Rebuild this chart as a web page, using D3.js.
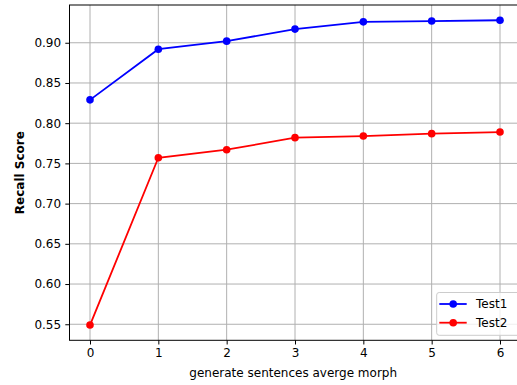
<!DOCTYPE html>
<html>
<head>
<meta charset="utf-8">
<script src="https://cdn.jsdelivr.net/npm/d3@7"></script>
<style>
  body { margin: 0; background: #fff; }
  text { font-family: "DejaVu Sans", sans-serif; fill: #000; }
</style>
</head>
<body>
<div id="chart"></div>
<script>
// chart data
var xValues = [0, 1, 2, 3, 4, 5, 6];
var test1 = [0.829, 0.892, 0.902, 0.917, 0.926, 0.927, 0.928];
var test2 = [0.549, 0.757, 0.767, 0.782, 0.784, 0.787, 0.789];
var seriesNames = ["Test1", "Test2"];
var seriesColors = ["#0000ff", "#ff0000"];
var yTicks = [0.55, 0.60, 0.65, 0.70, 0.75, 0.80, 0.85, 0.90];

var W = 517, H = 385;
var margin = {top: 5, right: -3.5, bottom: 44.7, left: 69.5},
    width = W - margin.left - margin.right,
    height = H - margin.top - margin.bottom;

var svg = d3.select("#chart")
  .append("svg")
    .attr("width", W)
    .attr("height", H)
  .append("g")
    .attr("transform", "translate(" + margin.left + "," + margin.top + ")");

// matplotlib-like 5% padding
var x = d3.scaleLinear().domain([-0.3, 6.3]).range([0, width]);
var all = test1.concat(test2);
var lo = d3.min(all), hi = d3.max(all), pad = (hi - lo) * 0.05;
var y = d3.scaleLinear().domain([lo - pad, hi + pad]).range([height, 0]);

// grid
svg.append("g").selectAll("line.gx")
  .data(xValues).enter().append("line")
    .attr("x1", d => x(d)).attr("x2", d => x(d))
    .attr("y1", 0).attr("y2", height)
    .attr("stroke", "#b0b0b0").attr("stroke-width", 1);
svg.append("g").selectAll("line.gy")
  .data(yTicks).enter().append("line")
    .attr("y1", d => y(d)).attr("y2", d => y(d))
    .attr("x1", 0).attr("x2", width)
    .attr("stroke", "#b0b0b0").attr("stroke-width", 1);

// axes
var xAxis = svg.append("g")
  .attr("transform", "translate(0," + height + ")")
  .call(d3.axisBottom(x).tickValues(xValues).tickFormat(d3.format("d")).tickSize(4.2).tickPadding(4.2));
var yAxis = svg.append("g")
  .call(d3.axisLeft(y).tickValues(yTicks).tickFormat(d3.format(".2f")).tickSize(4.2).tickPadding(4.2));
[xAxis, yAxis].forEach(function(a) {
  a.select(".domain").remove();
  a.selectAll("line").attr("stroke", "#000").attr("stroke-width", 1);
  a.selectAll("text").style("font-size", "12px").style("font-family", "DejaVu Sans");
});

// frame
svg.append("rect")
  .attr("x", 0).attr("y", 0).attr("width", width).attr("height", height)
  .attr("fill", "none").attr("stroke", "#000").attr("stroke-width", 1);

// lines and dots
var line = d3.line().x((d, i) => x(xValues[i])).y(d => y(d));
[test1, test2].forEach(function(s, k) {
  svg.append("path")
    .datum(s)
    .attr("d", line)
    .attr("fill", "none")
    .attr("stroke", seriesColors[k])
    .attr("stroke-width", 1.8);
  svg.selectAll("circle.s" + k)
    .data(s).enter().append("circle")
      .attr("cx", (d, i) => x(xValues[i]))
      .attr("cy", d => y(d))
      .attr("r", 3.8)
      .attr("fill", seriesColors[k]);
});

// labels
svg.append("text")
  .attr("x", width / 2 - 1.8)
  .attr("y", height + 37)
  .attr("text-anchor", "middle")
  .style("font-size", "12px")
  .text("generate sentences averge morph");
svg.append("text")
  .attr("transform", "translate(" + (-45.5) + "," + (height / 2) + ") rotate(-90)")
  .attr("text-anchor", "middle")
  .style("font-size", "12px")
  .style("font-weight", "bold")
  .text("Recall Score");

// legend
var lg = svg.append("g").attr("transform", "translate(" + (436.7 - margin.left) + "," + (292.5 - margin.top) + ")");
lg.append("rect")
  .attr("width", 84).attr("height", 42.8)
  .attr("rx", 2.5)
  .attr("fill", "#fff").attr("fill-opacity", 0.8)
  .attr("stroke", "#cccccc").attr("stroke-width", 1);
seriesNames.forEach(function(n, k) {
  var yy = 11.5 + k * 18.7;
  lg.append("line")
    .attr("x1", 2.6).attr("x2", 30).attr("y1", yy).attr("y2", yy)
    .attr("stroke", seriesColors[k]).attr("stroke-width", 1.8);
  lg.append("circle")
    .attr("cx", 16.5).attr("cy", yy).attr("r", 3.8).attr("fill", seriesColors[k]);
  lg.append("text")
    .attr("x", 39.3).attr("y", yy).attr("dy", "0.35em")
    .style("font-size", "12px")
    .text(n);
});
</script>
</body>
</html>
